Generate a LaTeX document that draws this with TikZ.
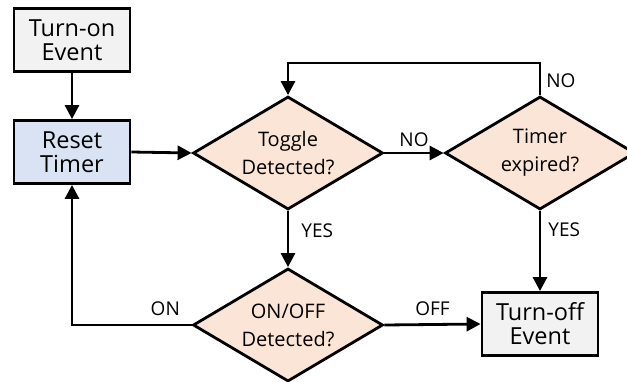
\documentclass[tikz,border=0pt]{standalone}
\usepackage{fontspec}
\setmainfont{Open Sans}
\usetikzlibrary{shapes.geometric,arrows.meta}
\definecolor{evfill}{HTML}{F2F2F2}
\definecolor{rsfill}{HTML}{DAE3F3}
\definecolor{dcfill}{HTML}{FBE5D6}
\tikzset{
  every path/.style={line width=2.8pt},
  evbox/.style={draw, rectangle, fill=evfill, minimum width=116pt, minimum height=63pt,
    inner sep=0pt, align=center, font=\fontsize{23.5}{24}\selectfont},
  rsbox/.style={evbox, fill=rsfill},
  decide/.style={draw, diamond, fill=dcfill, shape aspect=1.68, minimum width=190pt,
    minimum height=113pt, inner sep=0pt, align=center, font=\fontsize{20}{28}\selectfont},
  lab/.style={inner sep=0pt, font=\fontsize{19}{20}\selectfont},
  arr/.style={-{Triangle[length=14pt,width=14pt]}},
}
\begin{document}
\begin{tikzpicture}[x=1pt, y=-1pt, line join=miter]
\useasboundingbox (0,0) rectangle (627,381);
% blocks
\node[evbox] (on)  at (72,40)   {Turn-on\\Event};
\node[rsbox] (rst) at (72,152)  {Reset\\Timer};
\node[decide] (tog) at (288,153) {Toggle\\Detected?};
\node[decide] (tim) at (540,153) {Timer\\expired?};
\node[decide] (oo)  at (288,325) {ON/OFF\\Detected?};
\node[evbox] (off) at (540,324) {Turn-off\\Event};
\coordinate (loop) at (0,63);
% connectors
\draw[arr] (on) -- (rst);
\draw[arr] (rst.east) -- (tog.west);
\draw[arr] (tog.east) -- node[lab, above=5pt] {NO} (tim.west);
\draw[arr] (tim.north) -- node[lab, right=5pt, pos=.46] {NO} (tim.north |- loop)
  -- (tog.north |- loop) -- (tog.north);
\draw[arr] (tog.south) -- node[lab, right=12pt, pos=.36] {YES} (oo.north);
\draw[arr] (tim.south) -- node[lab, right=7pt, pos=.24] {YES} (off.north);
\draw[arr] (oo.west) -- node[lab, above=8pt, pos=.22] {ON} (oo.west -| rst.south) -- (rst.south);
\draw[arr] (oo.east) -- node[lab, above=7pt] {OFF} (off.west);
\end{tikzpicture}
\end{document}
